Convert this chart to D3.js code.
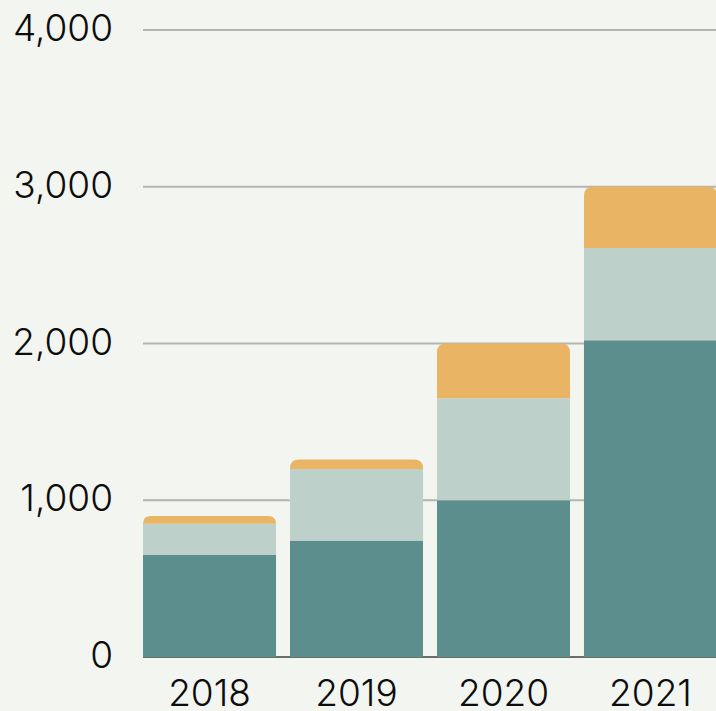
<!DOCTYPE html>
<html>
<head>
<meta charset="utf-8">
<script src="https://cdn.jsdelivr.net/npm/d3@7"></script>
<style>
  html, body { margin: 0; padding: 0; background: #f3f5f0; }
  svg { display: block; }
  .tick-label { font-family: Inter, "Noto Sans", sans-serif; font-size: 37px; font-weight: 300; fill: #0d0d0d; }
</style>
</head>
<body>
<div id="chart"></div>
<script>
var years = ['2018', '2019', '2020', '2021'];
var baseValues = [650, 740, 1000, 2020];
var midValues = [200, 460, 650, 590];
var topValues = [50, 60, 350, 390];
var yTicks = [0, 1000, 2000, 3000, 4000];
var colors = ['#5b8e8d', '#bdd0ca', '#e9b565'];

var width = 716, height = 711;

var svg = d3.select('#chart').append('svg')
    .attr('width', width)
    .attr('height', height);

var x = d3.scaleBand()
    .domain(years)
    .range([143, 717])
    .paddingInner(0.095)
    .paddingOuter(0);

var y = d3.scaleLinear()
    .domain([0, 4000])
    .range([657, 30]);

// gridlines
svg.append('g')
  .selectAll('line')
  .data(yTicks.filter(function(d) { return d > 0; }))
  .enter().append('line')
    .attr('x1', 143)
    .attr('x2', width)
    .attr('y1', function(d) { return y(d); })
    .attr('y2', function(d) { return y(d); })
    .attr('stroke', '#b3b6b0')
    .attr('stroke-width', 2);

// baseline
svg.append('line')
    .attr('x1', 143)
    .attr('x2', width)
    .attr('y1', y(0))
    .attr('y2', y(0))
    .attr('stroke', '#6b6d6a')
    .attr('stroke-width', 2);

// stack data
var rows = years.map(function(yr, i) {
  return { year: yr, base: baseValues[i], mid: midValues[i], top: topValues[i] };
});
var keys = ['base', 'mid', 'top'];
var series = d3.stack().keys(keys)(rows);

var r = 9;
function roundedTop(x0, y0, w, h, rad) {
  rad = Math.min(rad, h, w / 2);
  return 'M' + x0 + ',' + (y0 + h) +
    'V' + (y0 + rad) +
    'Q' + x0 + ',' + y0 + ' ' + (x0 + rad) + ',' + y0 +
    'H' + (x0 + w - rad) +
    'Q' + (x0 + w) + ',' + y0 + ' ' + (x0 + w) + ',' + (y0 + rad) +
    'V' + (y0 + h) + 'Z';
}

series.forEach(function(s, si) {
  var g = svg.append('g').attr('fill', colors[si]);
  g.selectAll('path')
    .data(s)
    .enter().append('path')
      .attr('d', function(d) {
        var x0 = x(d.data.year);
        var y0 = y(d[1]);
        var h = y(d[0]) - y(d[1]);
        if (si === keys.length - 1) {
          return roundedTop(x0, y0, x.bandwidth(), h, r);
        }
        return 'M' + x0 + ',' + y0 + 'h' + x.bandwidth() + 'v' + h + 'h' + (-x.bandwidth()) + 'Z';
      });
});

// y labels
svg.append('g')
  .selectAll('text')
  .data(yTicks)
  .enter().append('text')
    .attr('class', 'tick-label')
    .attr('x', 113)
    .attr('y', function(d) { return y(d) + 11; })
    .attr('text-anchor', 'end')
    .text(function(d) { return d3.format(',')(d); });

// x labels
svg.append('g')
  .selectAll('text')
  .data(years)
  .enter().append('text')
    .attr('class', 'tick-label')
    .attr('x', function(d) { return x(d) + x.bandwidth() / 2; })
    .attr('y', 706)
    .attr('text-anchor', 'middle')
    .text(function(d) { return d; });
</script>
</body>
</html>
